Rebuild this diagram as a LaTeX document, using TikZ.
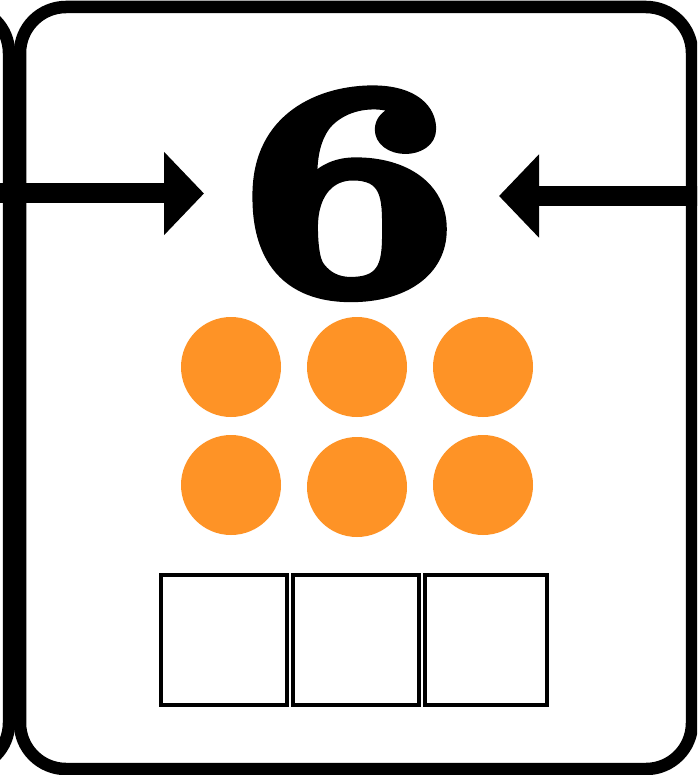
\documentclass[tikz,border=0pt]{standalone}
\usepackage{fontspec}
\usepackage{graphicx}
\usetikzlibrary{arrows.meta}
\definecolor{dotorange}{HTML}{FE9326}
\newcommand{\heavystroke}[1]{\special{pdf:literal direct q 2 Tr 13 w 1 j}#1\special{pdf:literal direct Q}}
\tikzset{
  cardframe/.style={draw=black, line width=12.5pt, rounded corners=46pt, fill=white, inner sep=0pt, outer sep=0pt},
  bigarrow/.style={line width=20pt, -{Triangle[length=40pt,width=81pt]}},
  dot/.style={circle, fill=dotorange, minimum size=100pt, inner sep=0pt},
  answerbox/.style={draw=black, line width=4pt, inner sep=0pt, minimum width=126pt, minimum height=130pt},
  answerboxb/.style={draw=black, line width=4pt, inner sep=0pt, minimum width=122pt, minimum height=130pt}
}
\begin{document}
\begin{tikzpicture}[x=1pt,y=-1pt]
\useasboundingbox (0,0) rectangle (697,775);
\clip (0,0) rectangle (697,775);
\fill[white] (0,0) rectangle (697,775);
% neighbouring card on the left (only its right edge shows)
\node[cardframe, minimum width=700pt, minimum height=762pt] (leftcard) at (-341,388) {};
% main card
\node[cardframe, minimum width=672pt, minimum height=762pt] (card) at (356,388) {};
% numeral
\node[inner sep=0pt, anchor=base] (six) at (350,292)
  {\scalebox{1.25}[1]{\fontsize{305}{305}\selectfont\bfseries\heavystroke{6}}};
% arrows
\coordinate (lstart) at (-5,193.5);
\coordinate (lend) at (204,193.5);
\coordinate (rstart) at (702,196);
\coordinate (rend) at (499,196);
\draw[bigarrow] (lstart) -- (lend);
\draw[bigarrow] (rstart) -- (rend);
% dots
\node[dot] (d1) at (231,367) {};
\node[dot] (d2) at (357,367) {};
\node[dot] (d3) at (483,367) {};
\node[dot] (d4) at (231,485) {};
\node[dot] (d5) at (357,487) {};
\node[dot] (d6) at (483,485) {};
% answer boxes
\node[answerbox] (b1) at (224,640) {};
\node[answerbox] (b2) at (356,640) {};
\node[answerboxb] (b3) at (486,640) {};
\end{tikzpicture}
\end{document}
